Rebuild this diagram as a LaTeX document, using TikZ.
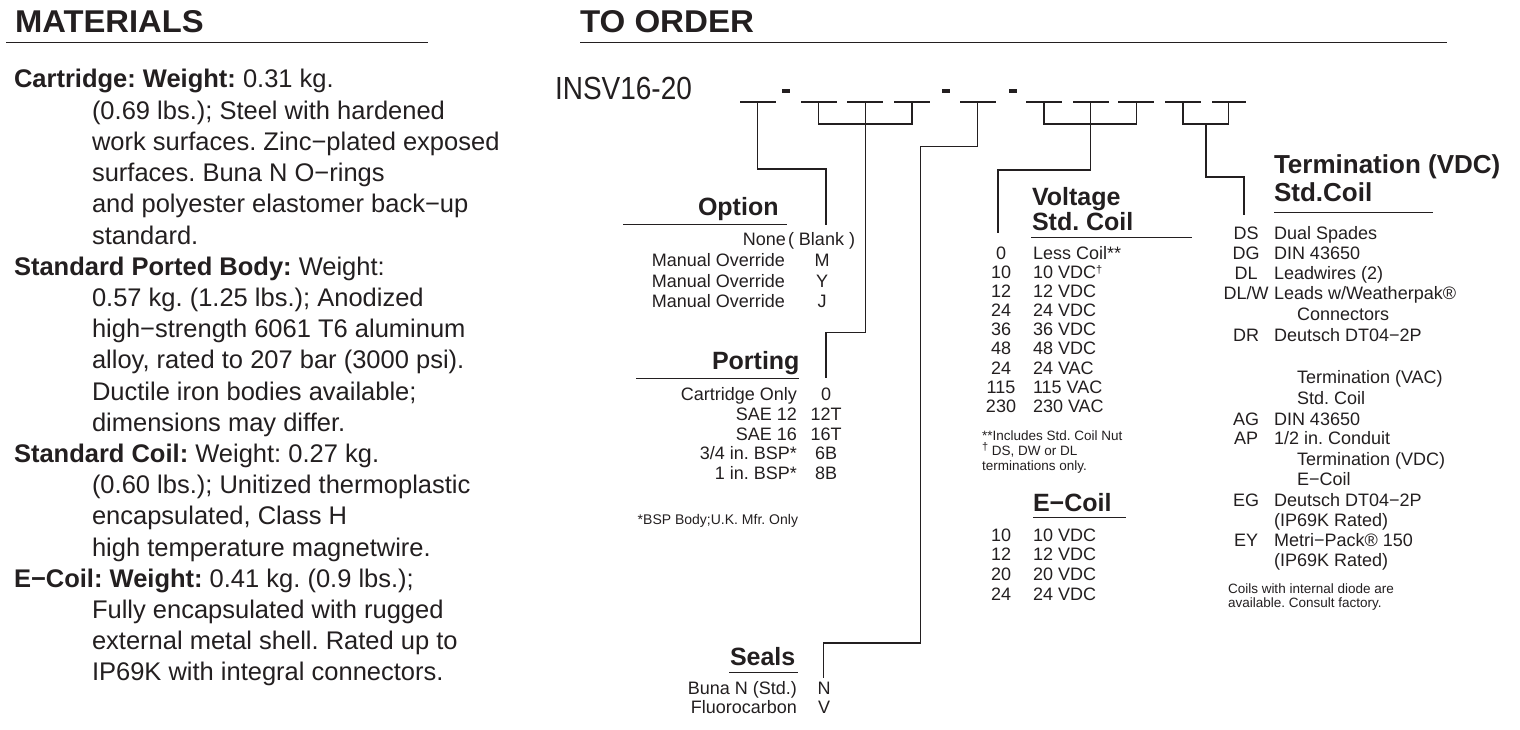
\documentclass[tikz,border=0pt]{standalone}
\usepackage{fontspec}
\setmainfont{Liberation Sans}
\definecolor{ink}{RGB}{35,31,32}
\newcommand{\myfs}[1]{\fontsize{#1}{#1}\selectfont}
\newcommand{\mydag}{{\myfs{11}\raisebox{5pt}{†}}}
\frenchspacing
\begin{document}
\begin{tikzpicture}[x=1pt,y=-1pt,
  every node/.style={inner sep=0pt, outer sep=0pt, text=ink},
  hdr/.style={anchor=base west, font=\bfseries\myfs{31.5}},
  mat/.style={anchor=base west, font=\myfs{25.5}},
  head/.style={anchor=base west, font=\bfseries\myfs{25}},
  row/.style={font=\myfs{18}},
  lab/.style={row, anchor=base east},
  code/.style={row, anchor=base},
  desc/.style={row, anchor=base west},
  note/.style={anchor=base west, font=\myfs{13.5}},
  slot/.style={fill=ink, minimum width=36pt, minimum height=1.8pt},
  dashmark/.style={fill=ink, minimum width=8pt, minimum height=4pt},
  conn/.style={draw=ink, line width=1.4pt},
  rule/.style={draw=ink, line width=1.4pt}]
\fill[white] (0,0) rectangle (1520,730);
\useasboundingbox (0,0) rectangle (1520,730);

% headers
\node[hdr] (hmat) at (15,32.5) {\scalebox{1.04}[1]{MATERIALS}};
\node[hdr] (hord) at (580,32.5) {\scalebox{1.05}[1]{TO ORDER}};
\draw[rule, line width=1.3pt] (6,42.3) -- (428,42.3);
\draw[rule, line width=1.3pt] (580,42.3) -- (1447,42.3);

% materials
\node[mat] (m0) at (14,88) {\textbf{Cartridge: Weight:} 0.31 kg.};
\node[mat] (m1) at (92,119.2) {(0.69 lbs.); Steel with hardened};
\node[mat] (m2) at (92,150.4) {work surfaces. Zinc−plated exposed};
\node[mat] (m3) at (92,181.6) {surfaces. Buna N O−rings};
\node[mat] (m4) at (92,212.8) {and polyester elastomer back−up};
\node[mat] (m5) at (92,244) {standard.};
\node[mat] (m6) at (14,275.2) {\textbf{Standard Ported Body:} Weight:};
\node[mat] (m7) at (92,306.4) {0.57 kg. (1.25 lbs.); Anodized};
\node[mat] (m8) at (92,337.6) {high−strength 6061 T6 aluminum};
\node[mat] (m9) at (92,368.8) {alloy, rated to 207 bar (3000 psi).};
\node[mat] (m10) at (92,400) {Ductile iron bodies available;};
\node[mat] (m11) at (92,431.2) {dimensions may differ.};
\node[mat] (m12) at (14,462.4) {\textbf{Standard Coil:} Weight: 0.27 kg.};
\node[mat] (m13) at (92,493.6) {(0.60 lbs.); Unitized thermoplastic};
\node[mat] (m14) at (92,524.8) {encapsulated, Class H};
\node[mat] (m15) at (92,556) {high temperature magnetwire.};
\node[mat] (m16) at (14,587.2) {\textbf{E−Coil: Weight:} 0.41 kg. (0.9 lbs.);};
\node[mat] (m17) at (92,618.4) {Fully encapsulated with rugged};
\node[mat] (m18) at (92,649.6) {external metal shell. Rated up to};
\node[mat] (m19) at (92,680.8) {IP69K with integral connectors.};

% model code
\node[anchor=base west, font=\myfs{32}] (model) at (555,99.5) {\scalebox{0.875}[1]{INSV16-20}};
\node[slot] (s1) at (757.6,102) {};
\node[slot] (s2) at (818.75,102) {};
\node[slot] (s3) at (865.4,102) {};
\node[slot] (s4) at (912,102) {};
\node[slot] (s5) at (977.5,102) {};
\node[slot] (s6) at (1044,102) {};
\node[slot] (s7) at (1090.5,102) {};
\node[slot] (s8) at (1136.3,102) {};
\node[slot] (s9) at (1183,102) {};
\node[slot, minimum width=34pt] (s10) at (1228.7,102) {};
\node[dashmark] (d1) at (786,91) {};
\node[dashmark] (d2) at (945.5,91) {};
\node[dashmark] (d3) at (1013,91) {};

% connectors
\coordinate (oc1) at (826,169);
\coordinate (oc2) at (826,225);
\draw[conn] (s1.south) |- (oc1) -- (oc2);
\coordinate (b1) at (865.4,124);
\draw[conn] (s2.south) |- (b1) -| (s4.south);
\coordinate (pc1) at (826,332.3);
\coordinate (pc2) at (826,378);
\draw[conn] (s3.south) |- (pc1) -- (pc2);
\coordinate (sc1) at (920.5,146.7);
\coordinate (sc2) at (823.5,643);
\coordinate (sc3) at (823.5,678);
\draw[conn] (s5.south) |- (sc1) |- (sc2) -- (sc3);
\coordinate (b2) at (1090.5,124);
\draw[conn] (s6.south) |- (b2) -| (s8.south);
\coordinate (vc1) at (998,170);
\coordinate (vc2) at (998,233);
\draw[conn] (s7.south) |- (vc1) -- (vc2);
\coordinate (b3) at (1205.9,124);
\draw[conn] (s9.south) |- (b3) -| (s10.south);
\coordinate (tc1) at (1244,177);
\coordinate (tc2) at (1244,215);
\draw[conn] (b3) |- (tc1) -- (tc2);

% Option
\node[head] (hopt) at (698,215) {Option};
\draw[rule] (623,224.3) -- (787,224.3);
\node[lab] (o0) at (786,245.5) {None};
\node[desc] (o0c) at (788,245.5) {( Blank )};
\node[lab] (o1) at (785,266) {Manual Override};
\node[code] (o1c) at (822,266) {M};
\node[lab] (o2) at (785,287) {Manual Override};
\node[code] (o2c) at (822,287) {Y};
\node[lab] (o3) at (785,307.5) {Manual Override};
\node[code] (o3c) at (822,307.5) {J};

% Porting
\node[head] (hport) at (712,369) {Porting};
\draw[rule] (636,378.3) -- (799,378.3);
\node[lab] (p0) at (797,400) {Cartridge Only};
\node[code] (p0c) at (826,400) {0};
\node[lab] (p1) at (797,420) {SAE 12};
\node[code] (p1c) at (826,420) {12T};
\node[lab] (p2) at (797,440) {SAE 16};
\node[code] (p2c) at (826,440) {16T};
\node[lab] (p3) at (797,459.5) {3/4 in. BSP*};
\node[code] (p3c) at (826,459.5) {6B};
\node[lab] (p4) at (797,479.5) {1 in. BSP*};
\node[code] (p4c) at (826,479.5) {8B};
\node[anchor=base east, font=\myfs{14}] (pnote) at (798,524) {*BSP Body;U.K. Mfr. Only};

% Seals
\node[head] (hseal) at (730,665.7) {Seals};
\draw[rule] (729,672.3) -- (798,672.3);
\node[lab] (e0) at (797,694) {Buna N (Std.)};
\node[code] (e0c) at (824,694) {N};
\node[lab] (e1) at (797,713.3) {Fluorocarbon};
\node[code] (e1c) at (824,713.3) {V};

% Voltage
\node[head] (hvol1) at (1032,205) {Voltage};
\node[head] (hvol2) at (1032,230) {Std. Coil};
\draw[rule] (1031,237.3) -- (1192,237.3);
\node[code] (v0c) at (1001,259.3) {0};
\node[desc] (v0) at (1033,259.3) {Less Coil**};
\node[code] (v1c) at (1001,278.4) {10};
\node[desc] (v1) at (1033,278.4) {10 VDC\mydag};
\node[code] (v2c) at (1001,297.6) {12};
\node[desc] (v2) at (1033,297.6) {12 VDC};
\node[code] (v3c) at (1001,316.7) {24};
\node[desc] (v3) at (1033,316.7) {24 VDC};
\node[code] (v4c) at (1001,335.8) {36};
\node[desc] (v4) at (1033,335.8) {36 VDC};
\node[code] (v5c) at (1001,354.9) {48};
\node[desc] (v5) at (1033,354.9) {48 VDC};
\node[code] (v6c) at (1001,374.1) {24};
\node[desc] (v6) at (1033,374.1) {24 VAC};
\node[code] (v7c) at (1001,393.2) {115};
\node[desc] (v7) at (1033,393.2) {115 VAC};
\node[code] (v8c) at (1001,412.3) {230};
\node[desc] (v8) at (1033,412.3) {230 VAC};
\node[note] (vn1) at (982,440) {**Includes Std. Coil Nut};
\node[note] (vn2) at (982,455) {\mydag\ DS, DW or DL};
\node[note] (vn3) at (982,470) {terminations only.};

% E-Coil
\node[head] (hecoil) at (1033,511) {E−Coil};
\draw[rule] (1033,517.7) -- (1126,517.7);
\node[code] (c0c) at (1001,541) {10};
\node[desc] (c0) at (1033,541) {10 VDC};
\node[code] (c1c) at (1001,560.7) {12};
\node[desc] (c1) at (1033,560.7) {12 VDC};
\node[code] (c2c) at (1001,580.3) {20};
\node[desc] (c2) at (1033,580.3) {20 VDC};
\node[code] (c3c) at (1001,600) {24};
\node[desc] (c3) at (1033,600) {24 VDC};

% Termination
\node[head, font=\bfseries\myfs{26}] (hterm1) at (1274,174) {Termination (VDC)};
\node[head, font=\bfseries\myfs{26}] (hterm2) at (1274,201.7) {Std.Coil};
\draw[rule] (1274,212.7) -- (1433,212.7);
\node[code] (t0c) at (1246,239.3) {DS};
\node[desc] (t0) at (1274,239.3) {Dual Spades};
\node[code] (t1c) at (1246,259.3) {DG};
\node[desc] (t1) at (1274,259.3) {DIN 43650};
\node[code] (t2c) at (1246,279) {DL};
\node[desc] (t2) at (1274,279) {Leadwires (2)};
\node[code] (t3c) at (1246,299) {DL/W};
\node[desc] (t3) at (1274,299) {Leads w/Weatherpak®};
\node[desc] (t3b) at (1297,320.5) {Connectors};
\node[code] (t4c) at (1246,341.5) {DR};
\node[desc] (t4) at (1274,341.5) {Deutsch DT04−2P};
\node[desc] (t5) at (1297,383.3) {Termination (VAC)};
\node[desc] (t5b) at (1297,404) {Std. Coil};
\node[code] (t6c) at (1246,425) {AG};
\node[desc] (t6) at (1274,425) {DIN 43650};
\node[code] (t7c) at (1246,444.5) {AP};
\node[desc] (t7) at (1274,444.5) {1/2 in. Conduit};
\node[desc] (t8) at (1297,465) {Termination (VDC)};
\node[desc] (t8b) at (1297,485) {E−Coil};
\node[code] (t9c) at (1246,506) {EG};
\node[desc] (t9) at (1274,506) {Deutsch DT04−2P};
\node[desc] (t9b) at (1274,526) {(IP69K Rated)};
\node[code] (t10c) at (1246,546) {EY};
\node[desc] (t10) at (1274,546) {Metri−Pack® 150};
\node[desc] (t10b) at (1274,566.7) {(IP69K Rated)};
\node[note] (tn1) at (1228,593) {Coils with internal diode are};
\node[note] (tn2) at (1228,607.5) {available. Consult factory.};
\end{tikzpicture}
\end{document}
